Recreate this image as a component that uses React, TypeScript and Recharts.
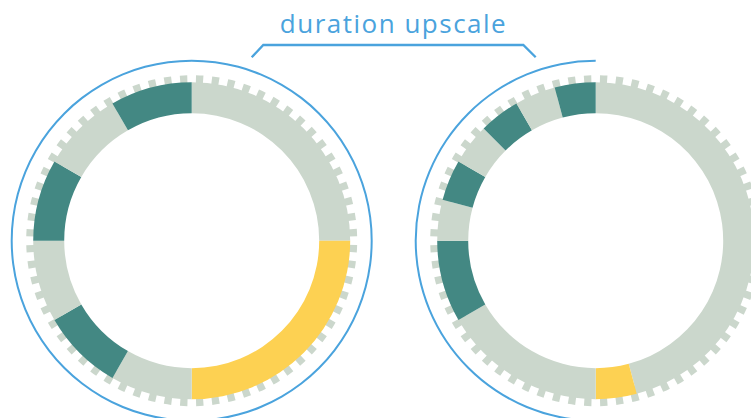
import React from 'react';
import { PieChart, Pie, Cell } from 'recharts';

// segment lengths in 15° steps, clockwise from 12 o'clock
const leftValues = [6, 6, 2, 2, 2, 2, 2, 2];
const leftKinds = ['idle', 'focus', 'idle', 'task', 'idle', 'task', 'idle', 'task'];

const rightValues = [11, 1, 4, 2, 1, 1, 1, 1, 1, 1];
const rightKinds = ['idle', 'focus', 'idle', 'task', 'idle', 'task', 'idle', 'task', 'idle', 'task'];

const TICK_COUNT = 64;
const title = 'duration upscale';

const COLORS: Record<string, string> = {
  idle: '#cbd7cc',
  focus: '#fdd152',
  task: '#438883',
};
const BLUE = '#4aa3dd';

const W = 751;
const H = 418;
const CY = 240.7;
const LEFT_CX = 191.7;
const RIGHT_CX = 595.7;

const toRows = (values: number[], kinds: string[]) =>
  values.map((value, i) => ({ name: `${kinds[i]}-${i}`, kind: kinds[i], value }));

const leftData = toRows(leftValues, leftKinds);
const rightData = toRows(rightValues, rightKinds);
const tickData = Array.from({ length: TICK_COUNT }, (_, i) => ({ name: `t${i}`, value: 1 }));
const ringData = [{ name: 'span', value: 1 }];

function Donut({ cx, data, id }: { cx: number; data: { name: string; kind: string; value: number }[]; id: string }) {
  return (
    <>
      {/* dashed rim, tucked under the ring */}
      <Pie
        key={`${id}-ticks`}
        data={tickData}
        dataKey="value"
        cx={cx}
        cy={CY}
        innerRadius={150}
        outerRadius={165.5}
        startAngle={88.5}
        endAngle={88.5 - 360}
        paddingAngle={3.05}
        stroke="none"
        fill={COLORS.idle}
        isAnimationActive={false}
      />
      <Pie
        key={`${id}-ring`}
        data={data}
        dataKey="value"
        cx={cx}
        cy={CY}
        innerRadius={127.5}
        outerRadius={158.5}
        startAngle={90}
        endAngle={-270}
        stroke="none"
        isAnimationActive={false}
      >
        {data.map((d) => (
          <Cell key={d.name} fill={COLORS[d.kind]} stroke="none" />
        ))}
      </Pie>
    </>
  );
}

export default function App() {
  return (
    <div style={{ position: 'absolute', left: 0, top: 0, width: W, height: H, background: '#fff', overflow: 'hidden' }}>
      <PieChart width={W} height={H} margin={{ top: 0, right: 0, bottom: 0, left: 0 }}>
        {Donut({ cx: LEFT_CX, data: leftData, id: 'l' })}
        {Donut({ cx: RIGHT_CX, data: rightData, id: 'r' })}
        {/* outline round the whole left wheel, half outline on the right one */}
        <Pie
          data={ringData}
          dataKey="value"
          cx={LEFT_CX}
          cy={CY}
          innerRadius={179}
          outerRadius={181}
          startAngle={90}
          endAngle={-270}
          stroke="none"
          fill={BLUE}
          isAnimationActive={false}
        />
        <Pie
          data={ringData}
          dataKey="value"
          cx={RIGHT_CX}
          cy={CY}
          innerRadius={179}
          outerRadius={181}
          startAngle={90}
          endAngle={270}
          stroke="none"
          fill={BLUE}
          isAnimationActive={false}
        />
      </PieChart>
      <svg width={W} height={H} style={{ position: 'absolute', left: 0, top: 0, pointerEvents: 'none' }}>
        <path d="M251.7 57.3 L263.3 45 L523.3 45 L535.7 57.3" fill="none" stroke={BLUE} strokeWidth={2.3} />
        <text
          x={393.5}
          y={33.3}
          textAnchor="middle"
          fill={BLUE}
          fontFamily="'Open Sans', sans-serif"
          fontSize={26}
          letterSpacing={1.5}
        >
          {title}
        </text>
      </svg>
    </div>
  );
}
